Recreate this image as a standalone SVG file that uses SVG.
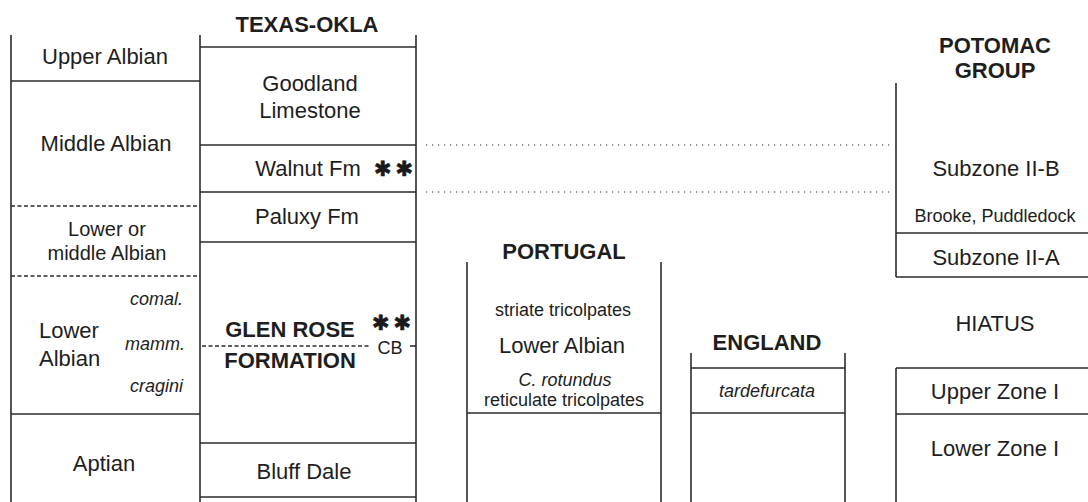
<svg xmlns="http://www.w3.org/2000/svg" width="1088" height="502" viewBox="0 0 1088 502">
<style>
  .ln { stroke:#2b2b2b; stroke-width:1.6; fill:none; }
  .dash { stroke:#2b2b2b; stroke-width:1.4; fill:none; stroke-dasharray:4 2.5; }
  .dot { stroke:#2b2b2b; stroke-width:1.2; fill:none; stroke-dasharray:1.2 4.8; }
  text { font-family:"Liberation Sans", Arial, Helvetica, sans-serif; fill:#1e1e1e; }
  .m { font-size:22px; text-anchor:middle; }
  .s { font-size:20px; text-anchor:middle; }
  .t { font-size:18px; text-anchor:middle; }
  .i { font-size:18px; font-style:italic; }
  .b { font-size:22px; font-weight:bold; text-anchor:middle; }
  .ast { font-family:"DejaVu Sans", sans-serif; font-size:21px; letter-spacing:4px; fill:#1a1a1a; stroke:#1a1a1a; stroke-width:0.6; }
</style>
<rect width="1088" height="502" fill="#fff"/>

<g id="stages">
  <line class="ln" x1="11" y1="35" x2="11" y2="502"/>
  <line class="ln" x1="11" y1="81" x2="200" y2="81"/>
  <line class="dash" x1="11" y1="206" x2="200" y2="206"/>
  <line class="dash" x1="11" y1="276" x2="200" y2="276"/>
  <line class="ln" x1="11" y1="414" x2="200" y2="414"/>
  <text class="m" x="105" y="64">Upper Albian</text>
  <text class="m" x="106" y="151">Middle Albian</text>
  <text class="s" x="107" y="236">Lower or</text>
  <text class="s" x="107" y="260">middle Albian</text>
  <text class="m" x="39" y="338" style="text-anchor:start">Lower</text>
  <text class="m" x="39" y="366" style="text-anchor:start">Albian</text>
  <text class="i" x="183" y="305" text-anchor="end">comal.</text>
  <text class="i" x="185" y="350" text-anchor="end">mamm.</text>
  <text class="i" x="183" y="392" text-anchor="end">cragini</text>
  <text class="m" x="104" y="471">Aptian</text>
</g>

<g id="texas">
  <line class="ln" x1="200" y1="35" x2="200" y2="502"/>
  <line class="ln" x1="416" y1="35" x2="416" y2="502"/>
  <line class="ln" x1="200" y1="47" x2="416" y2="47"/>
  <line class="ln" x1="200" y1="145" x2="416" y2="145"/>
  <line class="ln" x1="200" y1="192" x2="416" y2="192"/>
  <line class="ln" x1="200" y1="242" x2="416" y2="242"/>
  <line class="ln" x1="200" y1="443" x2="416" y2="443"/>
  <line class="ln" x1="200" y1="497" x2="416" y2="497"/>
  <line class="dash" x1="202" y1="346" x2="370" y2="346"/>
  <line class="ln" x1="410" y1="346" x2="416" y2="346"/>
  <text class="b" x="307" y="32">TEXAS-OKLA</text>
  <text class="m" x="310" y="91">Goodland</text>
  <text class="m" x="310" y="118">Limestone</text>
  <text class="m" x="308" y="176">Walnut Fm</text>
  <text class="ast" x="374" y="176">✱✱</text>
  <text class="m" x="307" y="224">Paluxy Fm</text>
  <text class="b" x="290" y="337">GLEN ROSE</text>
  <text class="b" x="290" y="368">FORMATION</text>
  <text class="ast" x="372" y="330">✱✱</text>
  <text class="t" x="390" y="354">CB</text>
  <text class="m" x="304" y="479">Bluff Dale</text>
</g>

<g id="portugal">
  <line class="ln" x1="467" y1="262" x2="467" y2="502"/>
  <line class="ln" x1="661" y1="262" x2="661" y2="502"/>
  <line class="ln" x1="467" y1="413" x2="661" y2="413"/>
  <text class="b" x="564" y="259">PORTUGAL</text>
  <text class="t" x="563" y="316">striate tricolpates</text>
  <text class="m" x="562" y="353">Lower Albian</text>
  <text class="i" x="565" y="386" text-anchor="middle">C. rotundus</text>
  <text class="t" x="564" y="406">reticulate tricolpates</text>
</g>

<g id="england">
  <line class="ln" x1="691" y1="353" x2="691" y2="502"/>
  <line class="ln" x1="845" y1="353" x2="845" y2="502"/>
  <line class="ln" x1="691" y1="368" x2="845" y2="368"/>
  <line class="ln" x1="691" y1="413" x2="845" y2="413"/>
  <text class="b" x="767" y="350">ENGLAND</text>
  <text class="i" x="767" y="397" text-anchor="middle">tardefurcata</text>
</g>

<g id="potomac">
  <line class="ln" x1="896" y1="83" x2="896" y2="277"/>
  <line class="ln" x1="896" y1="233" x2="1088" y2="233"/>
  <line class="ln" x1="896" y1="277" x2="1088" y2="277"/>
  <line class="ln" x1="896" y1="368" x2="896" y2="502"/>
  <line class="ln" x1="896" y1="368" x2="1088" y2="368"/>
  <line class="ln" x1="896" y1="414" x2="1088" y2="414"/>
  <text class="b" x="995" y="53">POTOMAC</text>
  <text class="b" x="995" y="78">GROUP</text>
  <text class="m" x="996" y="176">Subzone II-B</text>
  <text class="t" x="995" y="222">Brooke, Puddledock</text>
  <text class="m" x="996" y="265">Subzone II-A</text>
  <text class="m" x="995" y="331">HIATUS</text>
  <text class="m" x="995" y="399">Upper Zone I</text>
  <text class="m" x="995" y="456">Lower Zone I</text>
</g>

<g id="connectors">
  <line class="dot" x1="426" y1="145" x2="890" y2="145"/>
  <line class="dot" x1="426" y1="192" x2="890" y2="192"/>
</g>
</svg>
